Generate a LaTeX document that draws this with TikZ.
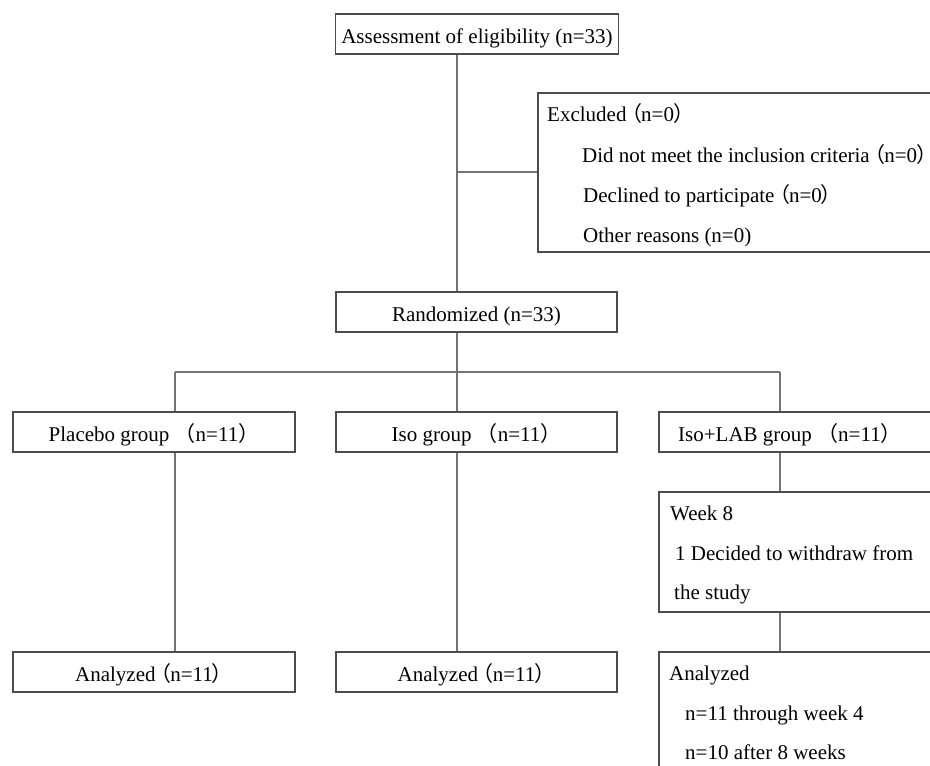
\documentclass[tikz,border=0pt]{standalone}
\usepackage{fontspec}
\setmainfont{Liberation Serif}
\newfontfamily\cjk{Noto Sans CJK SC}
\newcommand{\lp}{{\cjk （}}
\newcommand{\rp}{{\cjk ）}}
\newcommand{\lpt}{\hspace{-0.25em}{\cjk （}\hspace{-0.05em}}
\newcommand{\rpt}{\hspace{-0.05em}{\cjk ）}\hspace{-0.3em}}
\begin{document}
\begin{tikzpicture}[x=1pt,y=-1pt,
  box/.style={draw=black!70, line width=1.2pt, inner sep=0pt, text height=20pt, text depth=0.6pt, font=\fontsize{21}{24}\selectfont},
  txt/.style={anchor=base west, inner sep=0pt, font=\fontsize{21}{24}\selectfont},
  conn/.style={draw=black!55, line width=1.3pt}]
\useasboundingbox (0,0) rectangle (930,766);
\clip (0,0) rectangle (930,766);
% boxes
\node[box, minimum width=283pt, minimum height=40pt] (elig) at (477,34) {Assessment of eligibility (n=33)};
\node[box, minimum width=440pt, minimum height=159pt] (excl) at (758,172.5) {};
\node[txt] (t1) at (547,121) {Excluded\lpt n=0\rpt};
\node[txt] (t2) at (582,162) {Did not meet the inclusion criteria\lpt n=0\rpt};
\node[txt] (t3) at (583,202) {Declined to participate\lpt n=0\rpt};
\node[txt] (t4) at (583,242) {Other reasons (n=0)};
\node[box, minimum width=281pt, minimum height=40pt] (rand) at (476.5,312) {Randomized (n=33)};
\node[box, minimum width=282pt, minimum height=40pt] (plac) at (154,432) {Placebo group \lp n=11\rp};
\node[box, minimum width=281pt, minimum height=40pt] (iso) at (476.5,432) {Iso group \lp n=11\rp};
\node[box, minimum width=300pt, minimum height=40pt] (lab) at (809,432) {\hspace*{-38pt}Iso+LAB group \lp n=11\rp};
\node[box, minimum width=300pt, minimum height=120pt] (wk) at (809,552) {};
\node[txt] (w1) at (670,520) {Week 8};
\node[txt] (w2) at (675,560) {1 Decided to withdraw from};
\node[txt] (w3) at (674,599) {the study};
\node[box, minimum width=282pt, minimum height=40pt] (anp) at (154,672) {Analyzed\lpt n=11\rpt};
\node[box, minimum width=281pt, minimum height=40pt] (ani) at (476.5,672) {Analyzed\lpt n=11\rpt};
\node[box, minimum width=300pt, minimum height=160pt] (anl) at (809,732) {};
\node[txt] (a1) at (669,680) {Analyzed};
\node[txt] (a2) at (685,720) {n=11 through week 4};
\node[txt] (a3) at (685,759) {n=10 after 8 weeks};
% connectors
\coordinate (ex) at (457,172);
\coordinate (sp) at (457,372);
\coordinate (pL) at (175,372);
\coordinate (pR) at (780,372);
\draw[conn] (elig.south -| ex) -- (rand.north -| ex);
\draw[conn] (ex) -- (excl.west |- ex);
\draw[conn] (rand.south -| sp) -- (sp);
\draw[conn] (pL) -- (pR);
\draw[conn] (pL) -- (plac.north -| pL);
\draw[conn] (sp) -- (iso.north -| sp);
\draw[conn] (pR) -- (lab.north -| pR);
\draw[conn] (plac.south -| pL) -- (anp.north -| pL);
\draw[conn] (iso.south -| sp) -- (ani.north -| sp);
\draw[conn] (lab.south -| pR) -- (wk.north -| pR);
\draw[conn] (wk.south -| pR) -- (anl.north -| pR);
\end{tikzpicture}
\end{document}
